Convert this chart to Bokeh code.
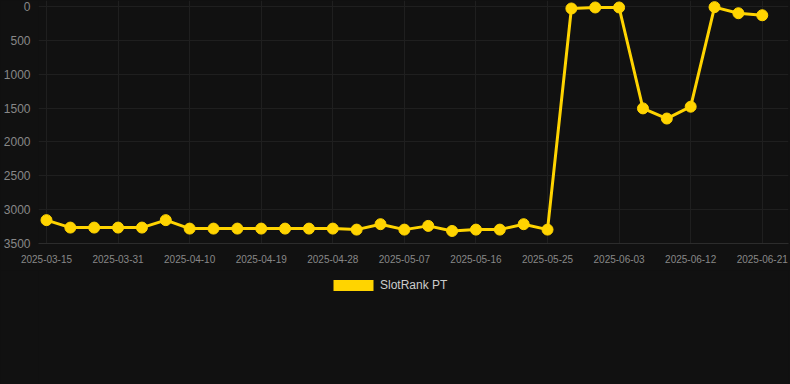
from bokeh.plotting import figure
from bokeh.layouts import column
from bokeh.models import Range1d, FixedTicker, Legend, LegendItem, ColumnDataSource
from bokeh.embed import file_html
from bokeh.resources import INLINE

dates = ["2025-03-15", "2025-03-20", "2025-03-26", "2025-03-31", "2025-04-03", "2025-04-07",
         "2025-04-10", "2025-04-13", "2025-04-16", "2025-04-19", "2025-04-22", "2025-04-25",
         "2025-04-28", "2025-05-01", "2025-05-04", "2025-05-07", "2025-05-10", "2025-05-13",
         "2025-05-16", "2025-05-19", "2025-05-22", "2025-05-25", "2025-05-28", "2025-05-31",
         "2025-06-03", "2025-06-06", "2025-06-09", "2025-06-12", "2025-06-15", "2025-06-18",
         "2025-06-21"]
rank = [3155, 3265, 3265, 3265, 3265, 3155, 3280, 3280, 3280, 3280, 3280, 3280,
        3280, 3295, 3215, 3295, 3240, 3315, 3295, 3295, 3215, 3295, 30, 15,
        15, 1505, 1655, 1480, 10, 100, 130]
label_every = 3
y_ticks = [0, 500, 1000, 1500, 2000, 2500, 3000, 3500]
series_name = "SlotRank PT"

idx = list(range(len(dates)))
src = ColumnDataSource(dict(x=idx, y=rank))

BG = "#111111"
YEL = "#ffd400"

p = figure(width=790, height=270, output_backend="svg", toolbar_location=None,
           x_range=Range1d(-0.335, 31.1), y_range=Range1d(3500, -88),
           min_border_left=38, min_border_right=2, min_border_top=0, min_border_bottom=27,
           background_fill_color=BG, border_fill_color=BG, outline_line_color=None)

p.line("x", "y", source=src, line_color=YEL, line_width=3)
p.scatter("x", "y", source=src, size=11, fill_color=YEL, line_color=YEL)

ticks = idx[::label_every]
p.xaxis.ticker = FixedTicker(ticks=ticks)
p.xaxis.major_label_overrides = {i: dates[i] for i in ticks}
p.yaxis.ticker = FixedTicker(ticks=y_ticks)

for ax in (p.xaxis, p.yaxis):
    ax.major_tick_line_color = None
    ax.minor_tick_line_color = None
    ax.major_label_text_font = "Liberation Sans"
    ax.major_label_text_color = "#888888"
p.yaxis.axis_line_color = None
p.xaxis.axis_line_color = "#2c2c2c"
p.yaxis.major_label_text_font_size = "12px"
p.xaxis.major_label_text_font_size = "10px"
p.yaxis.major_label_standoff = 2
p.xaxis.major_label_standoff = 5

p.xgrid.grid_line_color = "#1f1f1f"
p.ygrid.grid_line_color = "#1f1f1f"

# legend panel below the chart
lg = figure(width=790, height=114, output_backend="svg", toolbar_location=None,
            x_range=Range1d(0, 1), y_range=Range1d(0, 1),
            x_axis_location=None, y_axis_location=None,
            min_border_left=0, min_border_right=0, min_border_top=0, min_border_bottom=0,
            background_fill_color=BG, border_fill_color=BG, outline_line_color=None)
lg.xgrid.grid_line_color = None
lg.ygrid.grid_line_color = None
offscreen = ColumnDataSource(dict(l=[5], r=[6], t=[6], b=[5]))
dummy = lg.quad(left="l", right="r", top="t", bottom="b", source=offscreen,
                fill_color=YEL, line_color=None)
legend = Legend(items=[LegendItem(label=series_name, renderers=[dummy])],
                orientation="horizontal", location=(290, 92),
                background_fill_alpha=0, border_line_color=None,
                glyph_width=50, glyph_height=14, label_standoff=2,
                label_text_font="Liberation Sans", label_text_font_size="12px",
                label_text_color="#cccccc", margin=0, padding=0)
lg.add_layout(legend, "center")

layout = column(p, lg, spacing=0, styles={"background-color": BG})
open("out.html", "w").write(file_html(layout, INLINE))
